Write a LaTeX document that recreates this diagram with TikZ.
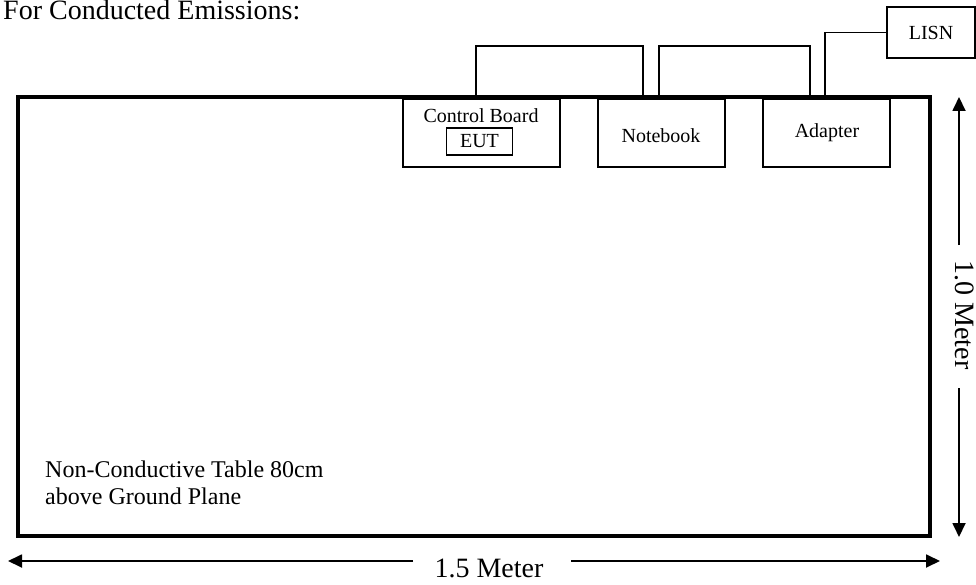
\documentclass[tikz,border=0pt]{standalone}
\usepackage{fontspec}
\setmainfont{Liberation Serif}
\usetikzlibrary{arrows.meta}
\begin{document}
\begin{tikzpicture}[x=1pt,y=-1pt,
  txt/.style={inner sep=0pt,font=\fontsize{20}{24}\selectfont},
  bigtxt/.style={inner sep=0pt,font=\fontsize{28}{32}\selectfont},
  devbox/.style={draw,line width=1.5pt},
  cable/.style={draw,line width=1.6pt},
  dim/.style={line width=1.8pt,-{Triangle[length=14pt,width=13pt]}}
]
\useasboundingbox (0,0) rectangle (976,585);
% title
\node[bigtxt,anchor=base west] (title) at (3,20) {For Conducted Emissions:};
% table
\draw[line width=4pt] (18,97) rectangle (929.5,536);
\node[anchor=base west,inner sep=0pt,font=\fontsize{24}{27}\selectfont] (tbl) at (45,477) {Non-Conductive Table 80cm};
\node[anchor=base west,inner sep=0pt,font=\fontsize{24}{27}\selectfont] (tbl2) at (45,504) {above Ground Plane};
% devices
\node[devbox,minimum width=157pt,minimum height=68pt] (cb) at (481.5,133) {};
\node[txt] (cbt) at (481,116) {Control Board};
\node[devbox,minimum width=66pt,minimum height=27pt] (eut) at (479.5,141.5) {};
\node[txt] at (eut) {EUT};
\node[devbox,minimum width=127pt,minimum height=68pt] (nb) at (661.5,133) {};
\node[txt] at (661,136) {Notebook};
\node[devbox,minimum width=127pt,minimum height=68pt] (ad) at (826.5,133) {};
\node[txt] at (827,133) {Adapter};
\node[devbox,minimum width=88pt,minimum height=51pt] (lisn) at (931,32.5) {};
\node[txt] at (931,33) {LISN};
% cables
\coordinate (c1a) at (476,97);
\coordinate (c1b) at (643,97);
\coordinate (c2a) at (659,97);
\coordinate (c2b) at (810,97);
\coordinate (c3a) at (825,97);
\draw[cable] (c1a) -- (476,46) -- (643,46) -- (c1b);
\draw[cable] (c2a) -- (659,46) -- (810,46) -- (c2b);
\draw[cable] (c3a) |- (lisn.west);
% dimensions
\node[bigtxt] (w) at (489,568) {1.5 Meter};
\coordinate (wl) at (8,561);
\coordinate (wr) at (940,561);
\draw[dim] (413,561) -- (wl);
\draw[dim] (571,561) -- (wr);
\node[bigtxt,rotate=-90] (h) at (965,315) {1.0 Meter};
\coordinate (ht) at (959,97);
\coordinate (hb) at (959,537);
\draw[dim] (959,245) -- (ht);
\draw[dim] (959,388) -- (hb);
\end{tikzpicture}
\end{document}
